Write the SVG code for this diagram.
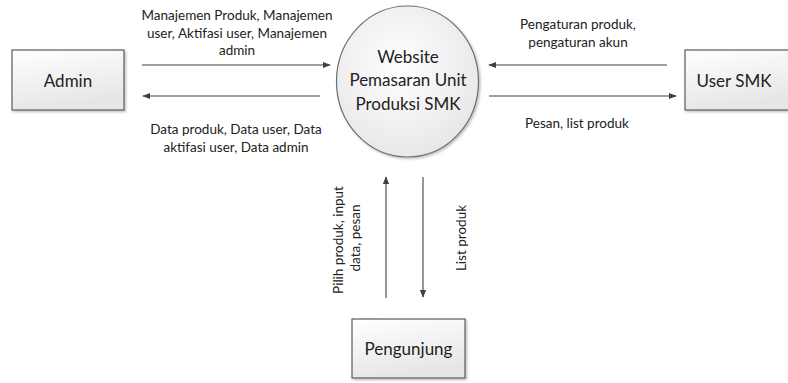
<svg xmlns="http://www.w3.org/2000/svg" width="788" height="383" viewBox="0 0 788 383">
  <defs>
    <linearGradient id="boxFill" x1="0" y1="0" x2="0.3" y2="1">
      <stop offset="0" stop-color="#ffffff"/>
      <stop offset="1" stop-color="#e6e6e6"/>
    </linearGradient>
    <radialGradient id="circleFill" cx="0.45" cy="0.4" r="0.65">
      <stop offset="0" stop-color="#ffffff"/>
      <stop offset="1" stop-color="#e6e6e6"/>
    </radialGradient>
    <filter id="shadow" x="-10%" y="-10%" width="125%" height="125%">
      <feDropShadow dx="1.5" dy="1.5" stdDeviation="1" flood-color="#000000" flood-opacity="0.25"/>
    </filter>
    <marker id="arrow" viewBox="0 0 10 10" refX="9" refY="5" markerWidth="8" markerHeight="8" markerUnits="userSpaceOnUse" orient="auto">
      <path d="M0,1 L10,5 L0,9 Z" fill="#404040"/>
    </marker>
  </defs>
  <style>
    .node { fill: url(#boxFill); stroke: #5a5a5a; stroke-width: 1.2; filter: url(#shadow); }
    .proc { fill: url(#circleFill); stroke: #6e6e6e; stroke-width: 1.2; filter: url(#shadow); }
    .nodeText { font-family: Lato, "Liberation Sans", sans-serif; font-size: 17px; fill: #222222; text-anchor: middle; }
    .flow { stroke: #404040; stroke-width: 1.1; fill: none; marker-end: url(#arrow); }
    .label { font-family: Lato, "Liberation Sans", sans-serif; font-size: 13.5px; fill: #222222; text-anchor: middle; }
  </style>

  <rect width="788" height="383" fill="#ffffff"/>

  <g id="admin">
    <rect class="node" x="12" y="50" width="112" height="60"/>
    <text class="nodeText" x="68" y="87">Admin</text>
  </g>

  <g id="website">
    <ellipse class="proc" cx="407.5" cy="81.5" rx="71" ry="75.5"/>
    <text class="nodeText" x="408" y="63">Website</text>
    <text class="nodeText" x="408" y="86">Pemasaran Unit</text>
    <text class="nodeText" x="408" y="110">Produksi SMK</text>
  </g>

  <g id="user-smk">
    <rect class="node" x="685" y="50" width="110" height="60"/>
    <text class="nodeText" x="734" y="87">User SMK</text>
  </g>

  <g id="pengunjung">
    <rect class="node" x="352" y="319" width="113" height="59"/>
    <text class="nodeText" x="408.5" y="355">Pengunjung</text>
  </g>

  <g id="connectors">
    <line class="flow" x1="142" y1="65" x2="330" y2="65"/>
    <line class="flow" x1="320" y1="96" x2="143" y2="96"/>
    <line class="flow" x1="667" y1="65" x2="489" y2="65"/>
    <line class="flow" x1="489" y1="96" x2="676" y2="96"/>
    <line class="flow" x1="386" y1="298" x2="386" y2="177"/>
    <line class="flow" x1="423" y1="177" x2="423" y2="297"/>
  </g>

  <g id="flow-labels">
    <text class="label" x="237" y="20">Manajemen Produk, Manajemen</text>
    <text class="label" x="237" y="38">user, Aktifasi user, Manajemen</text>
    <text class="label" x="237" y="55">admin</text>
    <text class="label" x="236" y="134">Data produk, Data user, Data</text>
    <text class="label" x="236" y="152">aktifasi user, Data admin</text>
    <text class="label" x="578" y="29">Pengaturan produk,</text>
    <text class="label" x="578" y="47">pengaturan akun</text>
    <text class="label" x="577" y="128">Pesan, list produk</text>
    <text class="label" transform="translate(343 240) rotate(-90)">Pilih produk, input</text>
    <text class="label" transform="translate(360 238) rotate(-90)">data, pesan</text>
    <text class="label" transform="translate(466 238) rotate(-90)">List produk</text>
  </g>
</svg>
